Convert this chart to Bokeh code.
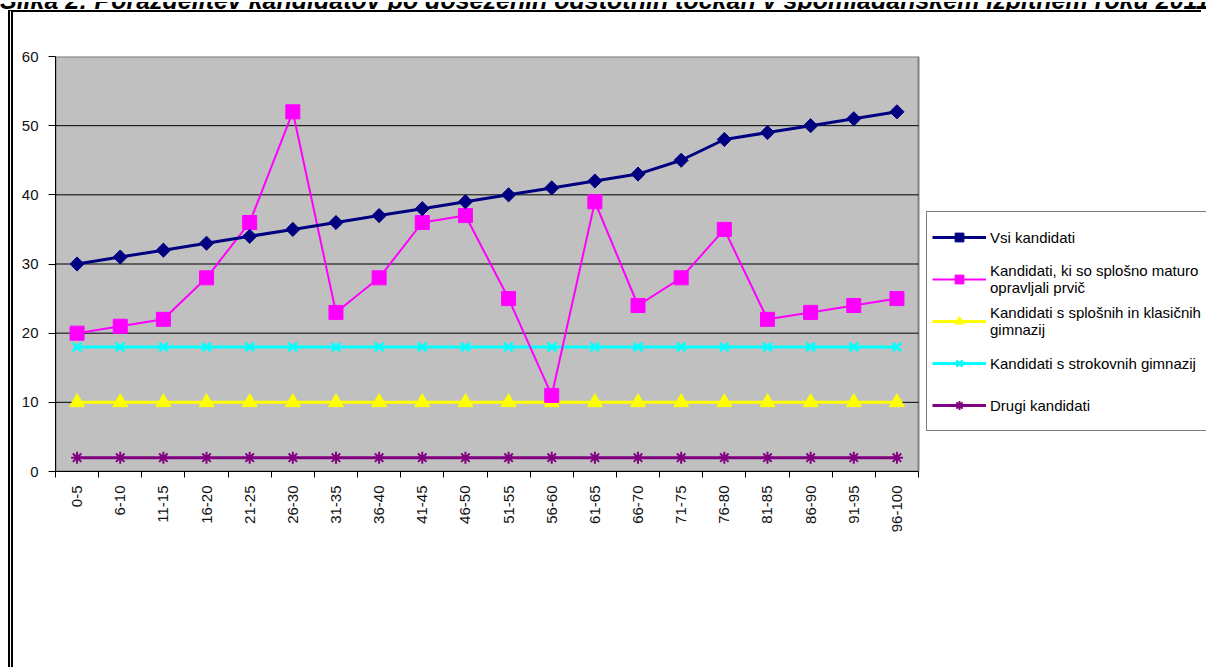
import math
from bokeh.plotting import figure
from bokeh.models import (FixedTicker, Legend, LegendItem, ColumnDataSource, Range1d, Div, Column)
from bokeh.embed import file_html
from bokeh.resources import INLINE

title_text = "Slika 2: Porazdelitev kandidatov po doseženih odstotnih točkah v spomladanskem izpitnem roku 2011"

categories = ["0-5", "6-10", "11-15", "16-20", "21-25", "26-30", "31-35", "36-40", "41-45", "46-50",
              "51-55", "56-60", "61-65", "66-70", "71-75", "76-80", "81-85", "86-90", "91-95", "96-100"]

vsi = [30, 31, 32, 33, 34, 35, 36, 37, 38, 39, 40, 41, 42, 43, 45, 48, 49, 50, 51, 52]
prvic = [20, 21, 22, 28, 36, 52, 23, 28, 36, 37, 25, 11, 39, 24, 28, 35, 22, 23, 24, 25]
splosne = [10] * 20
strokovne = [18] * 20
drugi = [2] * 20

labels = ["Vsi kandidati",
          "Kandidati, ki so splošno maturo\nopravljali prvič",
          "Kandidati s splošnih in klasičnih\ngimnazij",
          "Kandidati s strokovnih gimnazij",
          "Drugi kandidati"]

y_ticks = [0, 10, 20, 30, 40, 50, 60]

FONT = "Liberation Sans"

n = len(categories)
xpos = [i + 0.5 for i in range(n)]

# frame spans to the right edge of the canvas; the plot area (gray) covers 0..n
CANVAS_W = 1193
LEFT = 42
PLOT_PX = 863
frame_w = CANVAS_W - LEFT
x_end = n * frame_w / PLOT_PX

p = figure(width=CANVAS_W, height=657, output_backend="svg", toolbar_location=None,
           x_range=Range1d(0, x_end), y_range=Range1d(y_ticks[0], y_ticks[-1]),
           min_border_left=LEFT, min_border_right=0, min_border_top=44, min_border_bottom=198,
           background_fill_color="white", border_fill_color="white",
           outline_line_color=None, margin=(0, 0, 0, 8))
p.styles = {"border-top": "2px solid black", "border-left": "5px double black"}

# plot area background + border
p.quad(left=[0], right=[n], bottom=[y_ticks[0]], top=[y_ticks[-1]],
       fill_color="#C0C0C0", line_color="#808080", line_width=2)
# horizontal gridlines inside the plot area
grid_ticks = y_ticks[1:-1]
p.segment(x0=[0] * len(grid_ticks), x1=[n] * len(grid_ticks), y0=grid_ticks, y1=grid_ticks,
          line_color="black", line_width=1)

# axes
p.xaxis.bounds = (0, n)
p.xaxis.ticker = FixedTicker(ticks=xpos, minor_ticks=list(range(n + 1)))
p.xaxis.major_label_overrides = {x: c for x, c in zip(xpos, categories)}
p.xaxis.major_tick_line_color = None
p.xaxis.major_tick_out = 6
p.xaxis.major_tick_in = 0
p.xaxis.minor_tick_line_color = "black"
p.xaxis.minor_tick_out = 6
p.xaxis.minor_tick_in = 0
p.xaxis.major_label_orientation = math.pi / 2
p.xaxis.major_label_standoff = 8
p.xaxis.major_label_text_font = FONT
p.xaxis.major_label_text_font_size = "15px"
p.xaxis.major_label_text_color = "#111111"
p.xaxis.axis_line_color = "black"

p.yaxis.ticker = FixedTicker(ticks=y_ticks)
p.yaxis.minor_tick_line_color = None
p.yaxis.major_tick_out = 7
p.yaxis.major_tick_in = 0
p.yaxis.major_label_standoff = 10
p.yaxis.major_label_text_font = FONT
p.yaxis.major_label_text_font_size = "15px"
p.yaxis.major_label_text_color = "#111111"
p.yaxis.axis_line_color = "black"

p.xgrid.grid_line_color = None
p.ygrid.grid_line_color = None

src = ColumnDataSource(dict(x=xpos, vsi=vsi, prvic=prvic, splosne=splosne,
                            strokovne=strokovne, drugi=drugi))

items = []

def series(col, color, marker, size, label, lw=2.5, angle=0.0, mlw=1):
    l = p.line("x", col, source=src, line_color=color, line_width=lw)
    s = p.scatter("x", col, source=src, marker=marker, size=size, angle=angle,
                  fill_color=color, line_color=color, line_width=mlw)
    items.append(LegendItem(label=label, renderers=[l, s]))

series("drugi", "#800080", "asterisk", 12, labels[4], lw=3, mlw=2)
series("splosne", "#FFFF00", "triangle", 15, labels[2], lw=3)
series("strokovne", "#00FFFF", "x", 12, labels[3], lw=3, mlw=2.5)
series("prvic", "#FF00FF", "square", 14, labels[1], lw=2)
series("vsi", "#000080", "square", 10, labels[0], lw=3, angle=math.pi / 4)

order = [4, 3, 1, 2, 0]
legend = Legend(items=[items[i] for i in order], location=(871, 40),
                border_line_color="black", border_line_width=1,
                background_fill_color="white", background_fill_alpha=1,
                label_text_font=FONT, label_text_font_size="15px", label_text_color="black",
                label_text_line_height=1.33,
                glyph_width=54, glyph_height=22, label_height=40, label_standoff=4,
                label_width=220, spacing=2, padding=5, margin=0)
p.add_layout(legend, "center")

title_div = Div(
    text=('<div style="height:10px;overflow:hidden;width:1206px;">'
          '<div style="margin-top:-14px;font-family:\'Liberation Sans\';font-style:italic;'
          'font-weight:bold;font-size:25px;line-height:25px;white-space:nowrap;color:black;">'
          f'{title_text}</div></div>'),
    width=1206, height=10, margin=0)

layout = Column(children=[title_div, p], spacing=0)

open("out.html", "w").write(file_html(layout, INLINE))
